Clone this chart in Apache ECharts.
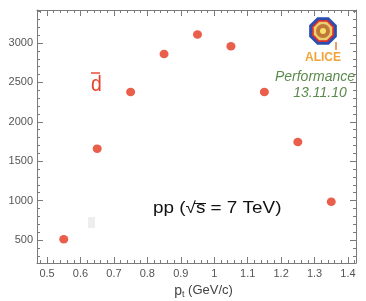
<!DOCTYPE html>
<html><head><meta charset="utf-8">
<script src="https://cdn.jsdelivr.net/npm/echarts@6/dist/echarts.min.js"></script>
<style>html,body{margin:0;padding:0;background:#fff}#c{width:366px;height:301px}</style>
</head><body><div id="c"></div>
<script>
// ---- data ----
const ptValues = [0.55, 0.65, 0.75, 0.85, 0.95, 1.05, 1.15, 1.25, 1.35];
const counts = [510, 1660, 2380, 2860, 3110, 2960, 2380, 1745, 985];
const xTickLabels = ['0.5', '0.6', '0.7', '0.8', '0.9', '1', '1.1', '1.2', '1.3', '1.4'];
const yTickLabels = ['500', '1000', '1500', '2000', '2500', '3000'];

const points = ptValues.map((x, i) => [x, counts[i]]);

const axisCol = '#7a7a7a';
const labelCol = '#555';
const fontFam = '"Liberation Sans", Arial, Helvetica, sans-serif';

function fmt(list) {
  return v => { const s = String(+(+v).toFixed(3)); return list.includes(s) ? s : ''; };
}

const xBase = {
  type: 'value', min: 0.47, max: 1.424, splitNumber: 10,
  axisLine: { show: true, onZero: false, lineStyle: { color: axisCol, width: 1 } },
  axisTick: { show: true, inside: true, length: 6, lineStyle: { color: axisCol } },
  minorTick: { show: true, splitNumber: 5, length: 3, lineStyle: { color: axisCol } },
  splitLine: { show: false }, minorSplitLine: { show: false }
};
const yBase = {
  type: 'value', min: 208, max: 3420, splitNumber: 6,
  axisLine: { show: true, onZero: false, lineStyle: { color: axisCol, width: 1 } },
  axisTick: { show: true, inside: true, length: 6, lineStyle: { color: axisCol } },
  minorTick: { show: true, splitNumber: 5, length: 3, lineStyle: { color: axisCol } },
  splitLine: { show: false }, minorSplitLine: { show: false }
};

function octagon(cx, cy, r) {
  const pts = [];
  for (let i = 0; i < 8; i++) {
    const a = Math.PI / 8 + i * Math.PI / 4;
    pts.push([cx + r * Math.cos(a), cy + r * Math.sin(a)]);
  }
  return pts;
}

const chart = echarts.init(document.getElementById('c'), null, { renderer: 'canvas' });
chart.setOption({
  animation: false,
  backgroundColor: '#fff',
  grid: { left: 37, right: 10, top: 10, bottom: 38, containLabel: false, outerBoundsMode: 'none' },
  xAxis: [
    Object.assign({}, xBase, {
      position: 'bottom',
      axisLabel: { show: true, formatter: fmt(xTickLabels), color: labelCol, fontSize: 11, fontFamily: fontFam, margin: 5, showMinLabel: false, showMaxLabel: true },
      name: '{p|p}{t|t}{u| (GeV/c)}', nameLocation: 'middle', nameGap: 14,
      nameTextStyle: { padding: [0, 0, 0, 14], rich: {
        p: { fontSize: 14, color: '#444', fontFamily: fontFam },
        t: { fontSize: 9, color: '#444', fontFamily: fontFam, verticalAlign: 'bottom', padding: [8, 0, 0, 0] },
        u: { fontSize: 13, color: '#444', fontFamily: fontFam }
      } }
    }),
    Object.assign({}, xBase, { position: 'top', axisLabel: { show: false } })
  ],
  yAxis: [
    Object.assign({}, yBase, {
      position: 'left',
      axisLabel: { show: true, formatter: fmt(yTickLabels), color: labelCol, fontSize: 11, fontFamily: fontFam, margin: 4, showMinLabel: false, showMaxLabel: false },
      name: 'Counts', nameLocation: 'middle', nameGap: 22,
      nameTextStyle: { fontSize: 13, color: '#444', fontFamily: fontFam }
    }),
    Object.assign({}, yBase, { position: 'right', axisLabel: { show: false } })
  ],
  series: [{
    type: 'scatter', xAxisIndex: 0, yAxisIndex: 0,
    data: points, symbol: 'circle', symbolSize: [9, 8.5],
    itemStyle: { color: '#e5361f' }, silent: true
  }],
  graphic: [
    { type: 'rect', shape: { x: 88, y: 217, width: 7, height: 11 }, style: { fill: '#eeeeee' }, silent: true },
    { type: 'text', x: 91, y: 74, scaleX: 0.88, style: { text: 'd', font: '22px ' + fontFam, fill: '#e8412a' }, silent: true },
    { type: 'line', shape: { x1: 91, y1: 73, x2: 100, y2: 73 }, style: { stroke: '#e8412a', lineWidth: 1.4 }, silent: true },
    { type: 'text', x: 153, y: 201, scaleX: 1.18, style: { text: 'pp (\u221As = 7 TeV)', font: '16px ' + fontFam, fill: '#111' }, silent: true },
    { type: 'line', shape: { x1: 194, y1: 203.5, x2: 206, y2: 203.5 }, style: { stroke: '#111', lineWidth: 1 }, silent: true },
    { type: 'polygon', shape: { points: octagon(323, 31, 15) }, style: { fill: '#2a4fb0' }, silent: true },
    { type: 'polygon', shape: { points: octagon(323, 31, 12) }, style: { fill: '#d93030' }, silent: true },
    { type: 'polygon', shape: { points: octagon(323, 31, 10) }, style: { fill: '#e8d070' }, silent: true },
    { type: 'circle', shape: { cx: 323, cy: 31, r: 7 }, style: { fill: '#c07838' }, silent: true },
    { type: 'circle', shape: { cx: 323, cy: 31, r: 3 }, style: { fill: '#f7e070' }, silent: true },
    { type: 'line', shape: { x1: 336, y1: 42, x2: 336, y2: 50 }, style: { stroke: '#e08030', lineWidth: 1.5 }, silent: true },
    { type: 'text', x: 323, y: 58, style: { text: 'ALICE', font: 'bold 12px ' + fontFam, fill: '#f2a33a', align: 'center', verticalAlign: 'middle' }, silent: true },
    { type: 'text', x: 315, y: 77, style: { text: 'Performance', font: 'italic 14px ' + fontFam, fill: '#5b8a4c', align: 'center', verticalAlign: 'middle' }, silent: true },
    { type: 'text', x: 320, y: 93, style: { text: '13.11.10', font: 'italic 14px ' + fontFam, fill: '#5b8a4c', align: 'center', verticalAlign: 'middle' }, silent: true }
  ]
});
</script>
</body></html>
